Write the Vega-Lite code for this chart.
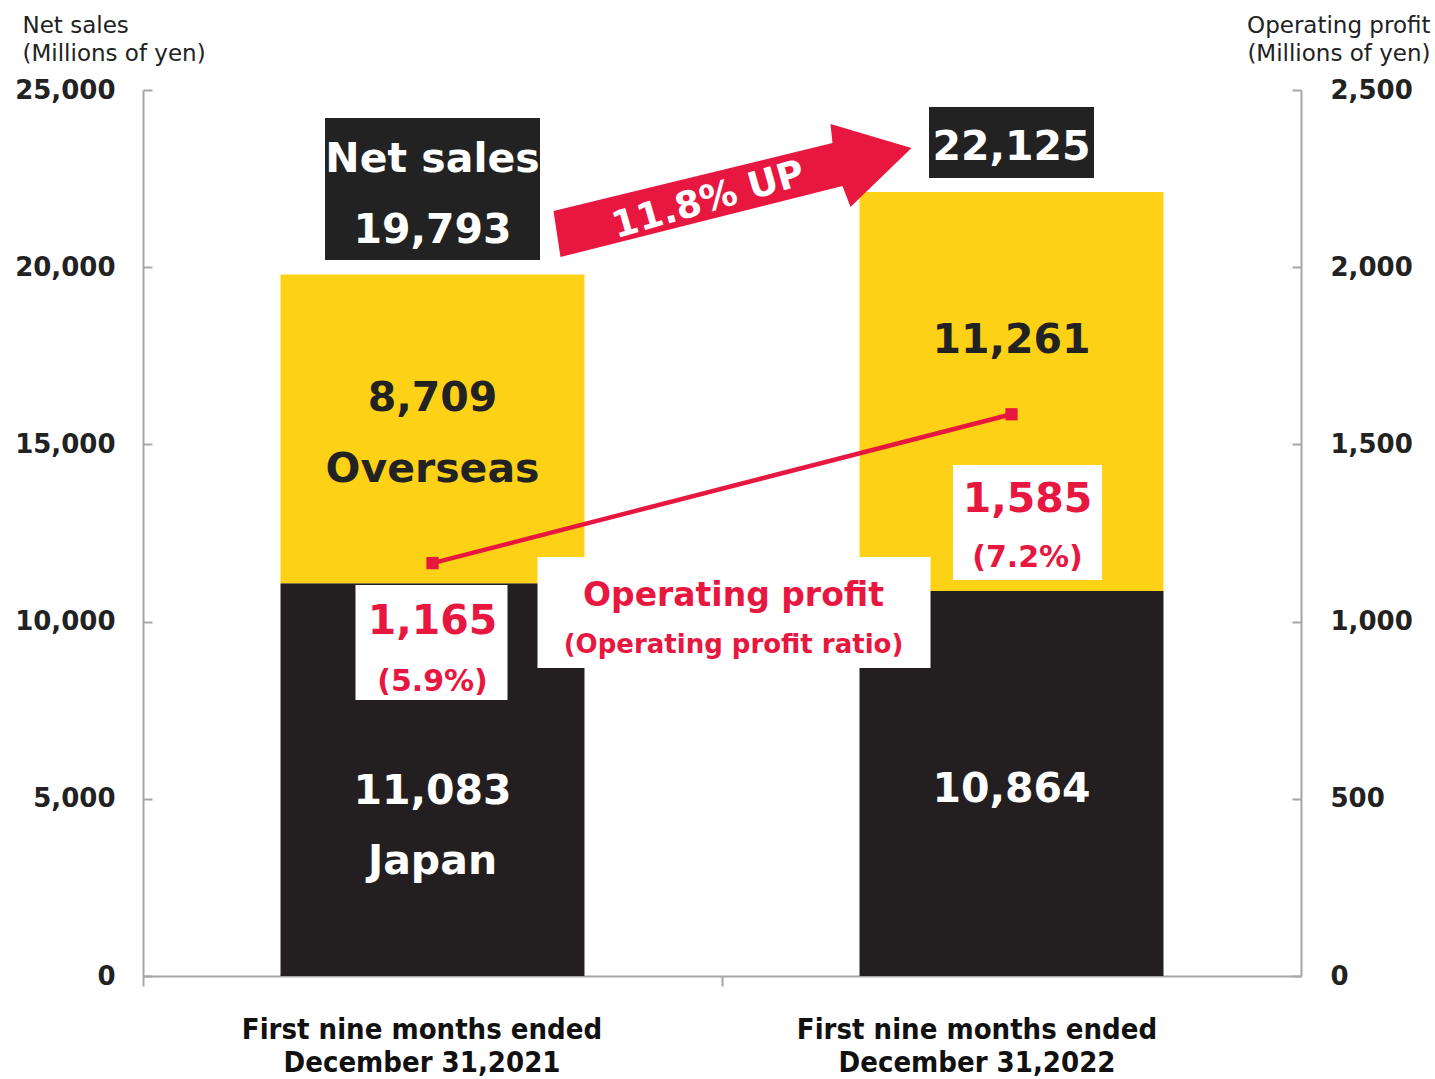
{
  "$schema": "https://vega.github.io/schema/vega-lite/v6.json",
  "width": 1158,
  "height": 886,
  "autosize": {"type": "none"},
  "padding": {"left": 143, "top": 90, "right": 134, "bottom": 103},
  "background": "white",
  "config": {"view": {"stroke": null}, "font": "DejaVu Sans"},
  "datasets": {
    "sales": [
      {"period": "2021", "region": "Japan", "value": 11083},
      {"period": "2021", "region": "Overseas", "value": 8709},
      {"period": "2022", "region": "Japan", "value": 10864},
      {"period": "2022", "region": "Overseas", "value": 11261}
    ],
    "totals": [
      {"period": "2021", "total": 19793},
      {"period": "2022", "total": 22125}
    ],
    "profit": [
      {"period": "2021", "profit": 1165, "ratio": "(5.9%)"},
      {"period": "2022", "profit": 1585, "ratio": "(7.2%)"}
    ]
  },
  "resolve": {"scale": {"y": "independent"}},
  "layer": [
    {
      "data": {"name": "sales"},
      "mark": {"type": "bar"},
      "encoding": {
        "x": {
          "field": "period", "type": "nominal",
          "scale": {"type": "band", "paddingInner": 0.475, "paddingOuter": 0.2375},
          "axis": {
            "title": null,
            "domainColor": "#a6a6a6", "domainWidth": 2,
            "tickColor": "#a6a6a6", "tickWidth": 2, "tickSize": 10,
            "tickOffset": -289.5,
            "labelOffset": {"condition": {"test": "datum.value == '2022'", "value": 254.5}, "value": 278.5},
            "labelExpr": "['First nine months ended', 'December 31,' + datum.value]",
            "labelFont": "DejaVu Sans Condensed", "labelFontWeight": "bold", "labelFontSize": 29,
            "labelColor": "#111111", "labelPadding": 29, "labelBaseline": "top",
            "labelLineHeight": 33, "labelAngle": 0, "labelLimit": 0
          }
        },
        "y": {
          "field": "value", "type": "quantitative", "stack": "zero",
          "scale": {"domain": [0, 25000], "nice": false},
          "axis": {
            "title": ["Net sales", "(Millions of yen)"],
            "titleAngle": 0, "titleAlign": "left", "titleBaseline": "alphabetic",
            "titleX": -121, "titleY": -58, "titleFontSize": 23, "titleFontWeight": "normal",
            "titleColor": "#222222", "titleLineHeight": 28, "titleFont": "DejaVu Sans",
            "values": [0, 5000, 10000, 15000, 20000, 25000], "format": ",.0f",
            "labelFont": "DejaVu Sans", "labelFontSize": 26, "labelFontWeight": "bold", "labelColor": "#222222",
            "tickSize": -9, "labelPadding": 37, "labelLimit": 0,
            "domainColor": "#a6a6a6", "domainWidth": 2, "tickColor": "#a6a6a6", "tickWidth": 2,
            "grid": false
          }
        },
        "color": {
          "field": "region", "type": "nominal",
          "scale": {"domain": ["Japan", "Overseas"], "range": ["#231f20", "#fcd116"]},
          "legend": null
        },
        "order": {"field": "region", "sort": "ascending"}
      }
    },
    {
      "data": {"name": "profit"},
      "mark": {"type": "line", "color": "#e8173f", "strokeWidth": 4.5},
      "encoding": {
        "x": {"field": "period", "type": "nominal"},
        "y": {
          "field": "profit", "type": "quantitative",
          "scale": {"domain": [0, 2500], "nice": false},
          "axis": {
            "orient": "right",
            "title": ["Operating profit", "(Millions of yen)"],
            "titleAngle": 0, "titleAlign": "right", "titleBaseline": "alphabetic",
            "titleX": 129, "titleY": -58, "titleFontSize": 23, "titleFontWeight": "normal",
            "titleColor": "#222222", "titleLineHeight": 28, "titleFont": "DejaVu Sans",
            "values": [0, 500, 1000, 1500, 2000, 2500], "format": ",.0f",
            "labelFont": "DejaVu Sans", "labelFontSize": 26, "labelFontWeight": "bold", "labelColor": "#222222",
            "tickSize": -9, "labelPadding": 38, "labelLimit": 0,
            "domainColor": "#a6a6a6", "domainWidth": 2, "tickColor": "#a6a6a6", "tickWidth": 2,
            "grid": false
          }
        }
      }
    },
    {
      "data": {"name": "profit"},
      "mark": {"type": "point", "shape": "square", "filled": true, "size": 150, "color": "#e8173f", "opacity": 1},
      "encoding": {
        "x": {"field": "period", "type": "nominal"},
        "y": {"field": "profit", "type": "quantitative", "scale": {"domain": [0, 2500], "nice": false}, "axis": null}
      }
    },
    {
      "data": {"name": "totals"},
      "transform": [{"filter": "datum.period == '2021'"}],
      "mark": {"type": "point", "shape": "M-0.961,0.3715L-1,0.1145L0.5587,-0.2654L0.5475,-0.3715L1,-0.2374L0.6592,0.0922L0.6145,-0.0251Z", "size": 128164, "filled": true, "color": "#e8173f", "opacity": 1, "strokeWidth": 0, "xOffset": 300, "yOffset": -84},
      "encoding": {
        "x": {"field": "period", "type": "nominal"},
        "y": {"field": "total", "type": "quantitative", "scale": {"domain": [0, 25000], "nice": false}, "axis": null}
      }
    },
    {
      "data": {"name": "totals"},
      "transform": [{"filter": "datum.period == '2021'"}],
      "mark": {"type": "text", "text": "11.8% UP", "fontSize": 37, "fontWeight": "bold", "color": "white", "angle": -16, "baseline": "middle", "align": "center", "xOffset": 276, "yOffset": -74},
      "encoding": {
        "x": {"field": "period", "type": "nominal"},
        "y": {"field": "total", "type": "quantitative", "scale": {"domain": [0, 25000], "nice": false}, "axis": null}
      }
    },
    {
      "data": {"name": "totals"},
      "transform": [{"filter": "datum.period == '2021'"}],
      "mark": {"type": "point", "shape": "M-1,-0.6605H1V0.6605H-1Z", "size": 46225, "filled": true, "color": "#222222", "opacity": 1, "strokeWidth": 0, "yOffset": -85.5},
      "encoding": {
        "x": {"field": "period", "type": "nominal"},
        "y": {"field": "total", "type": "quantitative", "scale": {"domain": [0, 25000], "nice": false}, "axis": null}
      }
    },
    {
      "data": {"name": "totals"},
      "transform": [{"filter": "datum.period == '2022'"}],
      "mark": {"type": "point", "shape": "M-1,-0.4303H1V0.4303H-1Z", "size": 27225, "filled": true, "color": "#222222", "opacity": 1, "strokeWidth": 0, "yOffset": -49.4},
      "encoding": {
        "x": {"field": "period", "type": "nominal"},
        "y": {"field": "total", "type": "quantitative", "scale": {"domain": [0, 25000], "nice": false}, "axis": null}
      }
    },
    {
      "data": {"name": "totals"},
      "transform": [{"filter": "datum.period == '2021'"}],
      "mark": {"type": "text", "text": "Net sales", "fontSize": 41, "fontWeight": "bold", "color": "white", "baseline": "middle", "dy": -115},
      "encoding": {
        "x": {"field": "period", "type": "nominal"},
        "y": {"field": "total", "type": "quantitative", "scale": {"domain": [0, 25000], "nice": false}, "axis": null}
      }
    },
    {
      "data": {"name": "totals"},
      "transform": [{"filter": "datum.period == '2021'"}],
      "mark": {"type": "text", "fontSize": 41, "fontWeight": "bold", "color": "white", "baseline": "middle", "dy": -44},
      "encoding": {
        "x": {"field": "period", "type": "nominal"},
        "y": {"field": "total", "type": "quantitative", "scale": {"domain": [0, 25000], "nice": false}, "axis": null},
        "text": {"field": "total", "type": "quantitative", "format": ","}
      }
    },
    {
      "data": {"name": "totals"},
      "transform": [{"filter": "datum.period == '2022'"}],
      "mark": {"type": "text", "fontSize": 41, "fontWeight": "bold", "color": "white", "baseline": "middle", "dy": -44},
      "encoding": {
        "x": {"field": "period", "type": "nominal"},
        "y": {"field": "total", "type": "quantitative", "scale": {"domain": [0, 25000], "nice": false}, "axis": null},
        "text": {"field": "total", "type": "quantitative", "format": ","}
      }
    },
    {
      "data": {"name": "profit"},
      "transform": [{"filter": "datum.period == '2021'"}],
      "mark": {"type": "point", "shape": "M-1,-0.7566H1V0.7566H-1Z", "size": 23104, "filled": true, "color": "white", "opacity": 1, "strokeWidth": 0, "xOffset": -1, "yOffset": 79.4},
      "encoding": {
        "x": {"field": "period", "type": "nominal"},
        "y": {"field": "profit", "type": "quantitative", "scale": {"domain": [0, 2500], "nice": false}, "axis": null}
      }
    },
    {
      "data": {"name": "profit"},
      "transform": [{"filter": "datum.period == '2022'"}],
      "mark": {"type": "point", "shape": "M-1,-0.7718H1V0.7718H-1Z", "size": 22201, "filled": true, "color": "white", "opacity": 1, "strokeWidth": 0, "xOffset": 16, "yOffset": 108.2},
      "encoding": {
        "x": {"field": "period", "type": "nominal"},
        "y": {"field": "profit", "type": "quantitative", "scale": {"domain": [0, 2500], "nice": false}, "axis": null}
      }
    },
    {
      "data": {"name": "profit"},
      "transform": [{"filter": "datum.period == '2021'"}],
      "mark": {"type": "point", "shape": "M-1,-0.2824H1V0.2824H-1Z", "size": 154449, "filled": true, "color": "white", "opacity": 1, "strokeWidth": 0, "xOffset": 301.5, "yOffset": 49.4},
      "encoding": {
        "x": {"field": "period", "type": "nominal"},
        "y": {"field": "profit", "type": "quantitative", "scale": {"domain": [0, 2500], "nice": false}, "axis": null}
      }
    },
    {
      "data": {"name": "profit"},
      "transform": [{"filter": "datum.period == '2021'"}],
      "mark": {"type": "text", "text": "Operating profit", "fontSize": 33, "fontWeight": "bold", "color": "#e8173f", "baseline": "middle", "dx": 301, "dy": 33},
      "encoding": {
        "x": {"field": "period", "type": "nominal"},
        "y": {"field": "profit", "type": "quantitative", "scale": {"domain": [0, 2500], "nice": false}, "axis": null}
      }
    },
    {
      "data": {"name": "profit"},
      "transform": [{"filter": "datum.period == '2021'"}],
      "mark": {"type": "text", "text": "(Operating profit ratio)", "fontSize": 26, "fontWeight": "bold", "color": "#e8173f", "baseline": "middle", "dx": 301, "dy": 82},
      "encoding": {
        "x": {"field": "period", "type": "nominal"},
        "y": {"field": "profit", "type": "quantitative", "scale": {"domain": [0, 2500], "nice": false}, "axis": null}
      }
    },
    {
      "data": {"name": "profit"},
      "transform": [{"filter": "datum.period == '2021'"}],
      "mark": {"type": "text", "fontSize": 41, "fontWeight": "bold", "color": "#e8173f", "baseline": "middle", "dy": 59},
      "encoding": {
        "x": {"field": "period", "type": "nominal"},
        "y": {"field": "profit", "type": "quantitative", "scale": {"domain": [0, 2500], "nice": false}, "axis": null},
        "text": {"field": "profit", "type": "quantitative", "format": ","}
      }
    },
    {
      "data": {"name": "profit"},
      "transform": [{"filter": "datum.period == '2021'"}],
      "mark": {"type": "text", "fontSize": 30, "fontWeight": "bold", "color": "#e8173f", "baseline": "middle", "dy": 119},
      "encoding": {
        "x": {"field": "period", "type": "nominal"},
        "y": {"field": "profit", "type": "quantitative", "scale": {"domain": [0, 2500], "nice": false}, "axis": null},
        "text": {"field": "ratio", "type": "nominal"}
      }
    },
    {
      "data": {"name": "profit"},
      "transform": [{"filter": "datum.period == '2022'"}],
      "mark": {"type": "text", "fontSize": 41, "fontWeight": "bold", "color": "#e8173f", "baseline": "middle", "dx": 16, "dy": 86},
      "encoding": {
        "x": {"field": "period", "type": "nominal"},
        "y": {"field": "profit", "type": "quantitative", "scale": {"domain": [0, 2500], "nice": false}, "axis": null},
        "text": {"field": "profit", "type": "quantitative", "format": ","}
      }
    },
    {
      "data": {"name": "profit"},
      "transform": [{"filter": "datum.period == '2022'"}],
      "mark": {"type": "text", "fontSize": 30, "fontWeight": "bold", "color": "#e8173f", "baseline": "middle", "dx": 16, "dy": 144},
      "encoding": {
        "x": {"field": "period", "type": "nominal"},
        "y": {"field": "profit", "type": "quantitative", "scale": {"domain": [0, 2500], "nice": false}, "axis": null},
        "text": {"field": "ratio", "type": "nominal"}
      }
    },
    {
      "data": {"name": "sales"},
      "transform": [{"filter": "datum.period == '2021' && datum.region == 'Overseas'"}],
      "mark": {"type": "text", "fontSize": 41, "fontWeight": "bold", "color": "#222222", "baseline": "middle", "dy": -268},
      "encoding": {
        "x": {"field": "period", "type": "nominal"},
        "y": {"field": "value", "type": "quantitative", "scale": {"domain": [0, 25000], "nice": false}, "axis": null},
        "text": {"field": "value", "type": "quantitative", "format": ","}
      }
    },
    {
      "data": {"name": "sales"},
      "transform": [{"filter": "datum.period == '2021' && datum.region == 'Overseas'"}],
      "mark": {"type": "text", "fontSize": 41, "fontWeight": "bold", "color": "#222222", "baseline": "middle", "dy": -197},
      "encoding": {
        "x": {"field": "period", "type": "nominal"},
        "y": {"field": "value", "type": "quantitative", "scale": {"domain": [0, 25000], "nice": false}, "axis": null},
        "text": {"field": "region", "type": "nominal"}
      }
    },
    {
      "data": {"name": "sales"},
      "transform": [{"filter": "datum.period == '2021' && datum.region == 'Japan'"}],
      "mark": {"type": "text", "fontSize": 41, "fontWeight": "bold", "color": "white", "baseline": "middle", "dy": 209},
      "encoding": {
        "x": {"field": "period", "type": "nominal"},
        "y": {"field": "value", "type": "quantitative", "scale": {"domain": [0, 25000], "nice": false}, "axis": null},
        "text": {"field": "value", "type": "quantitative", "format": ","}
      }
    },
    {
      "data": {"name": "sales"},
      "transform": [{"filter": "datum.period == '2021' && datum.region == 'Japan'"}],
      "mark": {"type": "text", "fontSize": 41, "fontWeight": "bold", "color": "white", "baseline": "middle", "dy": 279},
      "encoding": {
        "x": {"field": "period", "type": "nominal"},
        "y": {"field": "value", "type": "quantitative", "scale": {"domain": [0, 25000], "nice": false}, "axis": null},
        "text": {"field": "region", "type": "nominal"}
      }
    },
    {
      "data": {"name": "sales"},
      "transform": [{"filter": "datum.period == '2022' && datum.region == 'Overseas'"}],
      "mark": {"type": "text", "fontSize": 41, "fontWeight": "bold", "color": "#222222", "baseline": "middle", "dy": -236},
      "encoding": {
        "x": {"field": "period", "type": "nominal"},
        "y": {"field": "value", "type": "quantitative", "scale": {"domain": [0, 25000], "nice": false}, "axis": null},
        "text": {"field": "value", "type": "quantitative", "format": ","}
      }
    },
    {
      "data": {"name": "sales"},
      "transform": [{"filter": "datum.period == '2022' && datum.region == 'Japan'"}],
      "mark": {"type": "text", "fontSize": 41, "fontWeight": "bold", "color": "white", "baseline": "middle", "dy": 199},
      "encoding": {
        "x": {"field": "period", "type": "nominal"},
        "y": {"field": "value", "type": "quantitative", "scale": {"domain": [0, 25000], "nice": false}, "axis": null},
        "text": {"field": "value", "type": "quantitative", "format": ","}
      }
    }
  ]
}
